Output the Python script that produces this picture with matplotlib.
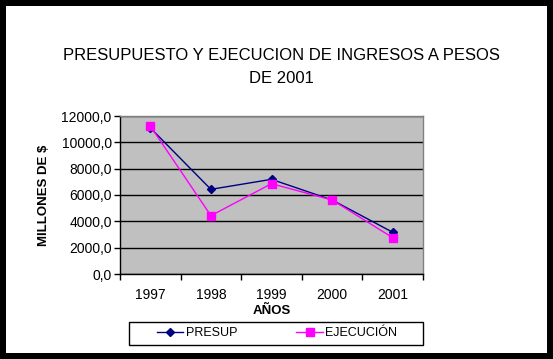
import matplotlib.pyplot as plt
from matplotlib.patches import Rectangle
import numpy as np

plt.rcParams['font.family'] = ['Liberation Sans', 'DejaVu Sans']

years = ['1997', '1998', '1999', '2000', '2001']
presup = [11100, 6430, 7190, 5620, 3170]
ejecucion = [11240, 4430, 6860, 5620, 2760]

W, H = 553, 359
fig = plt.figure(figsize=(W / 100, H / 100), dpi=100)
fig.patch.set_facecolor('black')
fig.patches.append(Rectangle((6 / W, 6 / H), 541 / W, 347 / H, transform=fig.transFigure,
                             facecolor='white', edgecolor='none', zorder=-5))

# plot area in pixels: x 120..423, y 116..274 (from top)
ax = fig.add_axes([120 / W, (H - 274) / H, 303 / W, 158 / H])
ax.set_facecolor('#C0C0C0')

x = np.arange(len(years))
ax.plot(x, presup, color='#000080', lw=1, marker='D', ms=4.5, label='PRESUP', zorder=3)
ax.plot(x, ejecucion, color='#FF00FF', lw=1, marker='s', ms=5.5, label='EJECUCIÓN', zorder=3)

ax.set_xlim(-0.5, len(years) - 0.5)
ax.set_ylim(0, 12000)
yt = np.arange(0, 12001, 2000)
ax.set_yticks(yt)
ax.set_yticklabels([f'{v:.1f}'.replace('.', ',') for v in yt], fontsize=10)
ax.set_xticks(x)
ax.set_xticklabels(years, fontsize=10)
ax.set_xticks(np.arange(-0.5, len(years)), minor=True)
ax.tick_params(axis='x', which='major', length=0, pad=10)
ax.tick_params(axis='x', which='minor', length=4, width=1, color='black')
ax.tick_params(axis='y', length=4, width=1, color='black', pad=2)
ax.grid(axis='y', color='black', lw=1)
ax.set_axisbelow(True)

for s in ['top', 'right']:
    ax.spines[s].set_color('#808080')
for s in ['left', 'bottom']:
    ax.spines[s].set_color('black')
for s in ax.spines.values():
    s.set_linewidth(1)

ax.set_ylabel('MILLONES DE $', fontsize=9.5, fontweight='bold', labelpad=8)
ax.set_xlabel('AÑOS', fontsize=9.5, fontweight='bold', labelpad=2)

fig.text(281 / W, 1 - 67 / H, 'PRESUPUESTO Y EJECUCION DE INGRESOS A PESOS\nDE 2001',
         ha='center', va='center', fontsize=12, linespacing=1.6)

# legend box drawn by hand: x 129..423, y 322..345
fig.patches.append(Rectangle((129 / W, 1 - 345 / H), 294 / W, 23 / H, transform=fig.transFigure,
                             facecolor='white', edgecolor='black', lw=1, zorder=1))
leg = fig.legend(loc='center', bbox_to_anchor=(277 / W, 1 - 333.5 / H), ncol=2,
                 fontsize=9, frameon=False, columnspacing=4.7, handlelength=2.15,
                 handletextpad=0.2, borderpad=0.2)

fig.savefig('out.png', dpi=100, facecolor=fig.get_facecolor())
